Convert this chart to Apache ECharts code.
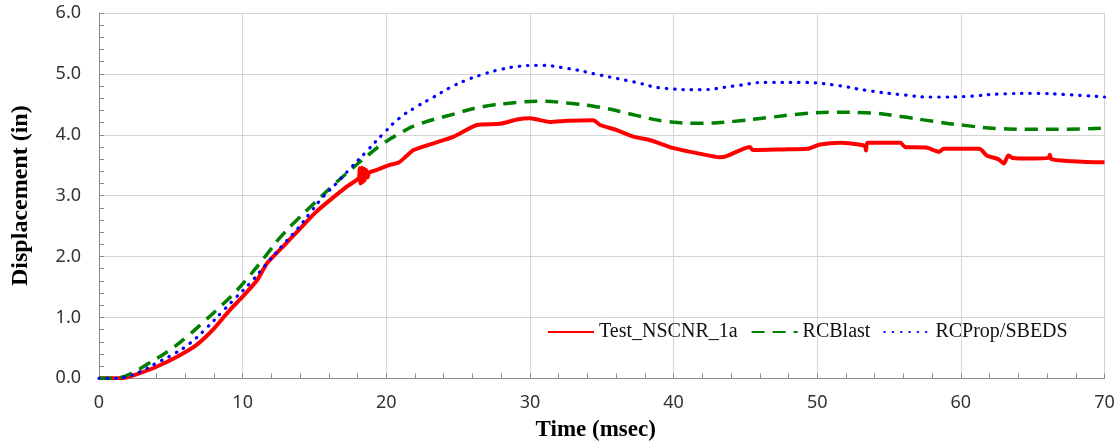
<!DOCTYPE html>
<html>
<head>
<meta charset="utf-8">
<script src="https://cdn.jsdelivr.net/npm/echarts@6/dist/echarts.min.js"></script>
<style>html,body{margin:0;padding:0;background:#fff;}#c{width:1120px;height:447px;}</style>
</head>
<body>
<div id="c"></div>
<script>
// Test_NSCNR_1a (red, measured)
const testT = [0, 1.4, 2.0, 2.8, 4.0, 5.4, 6.8, 7.9, 9.1, 10.0, 11.0, 11.7, 12.8, 13.8, 15.1, 16.1, 17.2, 17.9, 18.1,
  18.15, 18.2, 18.3, 18.35, 18.45, 18.5, 18.6, 18.7, 18.8, 19.3, 20.2, 20.9, 21.4, 21.9, 23.3, 24.7, 26.3, 27.9, 29.1,
  30.0, 31.4, 32.6, 34.4, 34.9, 36.0, 37.2, 38.4, 40.0, 41.8, 43.2, 43.7, 45.3, 45.5, 47.6, 49.3, 50.2, 51.6, 53.3,
  53.4, 53.5, 55.8, 56.1, 57.6, 58.5, 58.8, 61.3, 61.8, 62.6, 63.0, 63.3, 63.6, 65.0, 66.1, 66.2, 66.3, 67.4, 69.9, 70];
const testV = [0, 0, 0.02, 0.08, 0.19, 0.35, 0.55, 0.79, 1.12, 1.34, 1.61, 1.89, 2.16, 2.41, 2.73, 2.93, 3.14, 3.25, 3.30,
  3.45, 3.20, 3.46, 3.22, 3.44, 3.25, 3.42, 3.30, 3.38, 3.42, 3.50, 3.55, 3.65, 3.75, 3.86, 3.97, 4.16, 4.18, 4.25,
  4.27, 4.21, 4.23, 4.24, 4.16, 4.08, 3.97, 3.91, 3.78, 3.69, 3.63, 3.65, 3.80, 3.75, 3.76, 3.77, 3.84, 3.87, 3.82,
  3.74, 3.87, 3.87, 3.80, 3.79, 3.72, 3.77, 3.77, 3.66, 3.60, 3.53, 3.66, 3.62, 3.61, 3.62, 3.67, 3.60, 3.57, 3.55, 3.55];

// RCBlast (green dashed)
const blastT = [0, 1.0, 1.6, 2.4, 3.5, 4.9, 6.1, 7.3, 8.45, 9.5, 10.4, 11.7, 12.6, 13.9, 15.0, 16.3, 17.5, 18.7, 19.8,
  21.0, 22.1, 24.4, 26.7, 29.1, 30.7, 32.6, 34.9, 37.2, 39.5, 41.8, 44.2, 46.5, 48.8, 51.1, 53.4, 55.8, 58.1, 60.4,
  62.7, 65.0, 67.4, 70];
const blastV = [0, 0, 0.02, 0.10, 0.25, 0.46, 0.68, 0.93, 1.18, 1.42, 1.66, 2.04, 2.31, 2.63, 2.88, 3.17, 3.42, 3.66, 3.86,
  4.03, 4.16, 4.32, 4.46, 4.53, 4.55, 4.52, 4.45, 4.33, 4.22, 4.19, 4.22, 4.28, 4.34, 4.37, 4.36, 4.30, 4.22, 4.15,
  4.10, 4.09, 4.09, 4.11];

// RCProp/SBEDS (blue dotted)
const propT = [0, 1.0, 1.8, 2.8, 4.0, 5.2, 6.3, 7.5, 8.6, 9.5, 10.5, 11.7, 12.8, 13.8, 14.7, 15.6, 16.6, 17.5, 18.6,
  19.8, 20.9, 22.1, 23.3, 24.4, 25.6, 26.7, 27.9, 29.1, 30.5, 32.6, 34.9, 37.2, 39.5, 41.8, 44.2, 46.5, 48.8, 51.1,
  53.4, 55.8, 58.1, 60.4, 62.7, 65.0, 67.4, 70];
const propV = [0, 0, 0.02, 0.10, 0.25, 0.40, 0.57, 0.83, 1.10, 1.32, 1.56, 1.89, 2.19, 2.45, 2.72, 2.98, 3.22, 3.45, 3.72,
  4.02, 4.27, 4.46, 4.62, 4.77, 4.90, 4.99, 5.07, 5.12, 5.14, 5.09, 4.98, 4.87, 4.76, 4.74, 4.80, 4.86, 4.86, 4.82,
  4.73, 4.66, 4.62, 4.63, 4.67, 4.68, 4.66, 4.62];

const seriesNames = ['Test_NSCNR_1a', 'RCBlast', 'RCProp/SBEDS'];
const xTicks = {min: 0, max: 70, step: 10};
const yTicks = {min: 0, max: 6, step: 1};

const zip = (a, b) => a.map((t, i) => [t, b[i]]);

const chart = echarts.init(document.getElementById('c'), null, {renderer: 'canvas'});
const axisGray = '#8c8c8c';
const gridGray = '#d4d4d4';
const labelFont = {fontFamily: 'Noto Sans', fontSize: 18, color: '#333'};
chart.setOption({
  animation: false,
  backgroundColor: '#fff',
  grid: {left: 99, right: 15.5, top: 13, bottom: 68.7, containLabel: false},
  legend: {
    left: 542, top: 317,
    itemWidth: 46, itemHeight: 14, itemGap: 13,
    itemStyle: {opacity: 0},
    textStyle: {fontFamily: 'Liberation Serif', fontSize: 20, color: '#111'},
    data: seriesNames
  },
  xAxis: {
    type: 'value', min: xTicks.min, max: xTicks.max, interval: xTicks.step,
    name: 'Time (msec)', nameLocation: 'middle', nameGap: 40,
    nameTextStyle: {fontFamily: 'Liberation Serif', fontWeight: 'bold', fontSize: 23, color: '#000', padding: [0, 12, 0, 0]},
    axisLine: {show: true, lineStyle: {color: axisGray, width: 1}},
    axisTick: {show: true, inside: true, length: 5, lineStyle: {color: axisGray}},
    minorTick: {show: true, splitNumber: 5, length: 5, lineStyle: {color: axisGray}},
    axisLabel: Object.assign({margin: 16}, labelFont),
    splitLine: {show: true, lineStyle: {color: gridGray, width: 1}}
  },
  yAxis: {
    type: 'value', min: yTicks.min, max: yTicks.max, interval: yTicks.step,
    name: 'Displacement (in)', nameLocation: 'middle', nameGap: 66, nameRotate: 90,
    nameTextStyle: {fontFamily: 'Liberation Serif', fontWeight: 'bold', fontSize: 24, color: '#000'},
    axisLine: {show: true, lineStyle: {color: axisGray, width: 1}},
    axisTick: {show: true, inside: true, length: 5, lineStyle: {color: axisGray}},
    minorTick: {show: true, splitNumber: 5, length: 5, lineStyle: {color: axisGray}},
    axisLabel: Object.assign({margin: 18, formatter: v => v.toFixed(1)}, labelFont),
    splitLine: {show: true, lineStyle: {color: gridGray, width: 1}}
  },
  series: [
    {
      name: seriesNames[0], type: 'line', data: zip(testT, testV),
      showSymbol: false, symbol: 'none', smooth: 0.2,
      lineStyle: {color: '#ff0000', width: 4}, itemStyle: {color: '#ff0000'}, z: 2
    },
    {
      name: seriesNames[1], type: 'line', data: zip(blastT, blastV),
      showSymbol: false, symbol: 'none', smooth: 0.5,
      lineStyle: {color: '#008000', width: 3.5, type: [13, 8]}, itemStyle: {color: '#008000'}, z: 3
    },
    {
      name: seriesNames[2], type: 'line', data: zip(propT, propV),
      showSymbol: false, symbol: 'none', smooth: 0.5,
      lineStyle: {color: '#0000ff', width: 3.2, type: [0.5, 7.8], cap: 'round'}, itemStyle: {color: '#0000ff'}, z: 4
    }
  ]
});
</script>
</body>
</html>
